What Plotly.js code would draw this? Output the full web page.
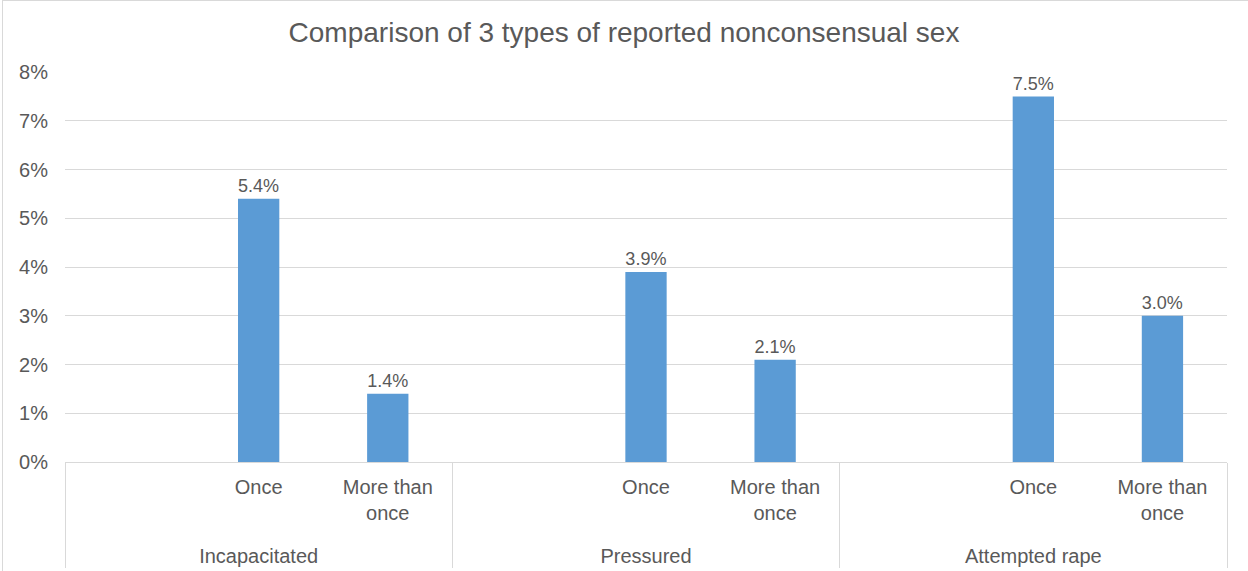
<!DOCTYPE html>
<html>
<head>
<meta charset="utf-8">
<script src="https://cdn.plot.ly/plotly-3.0.1.min.js"></script>
<style>
  html, body { margin: 0; padding: 0; background: #fff; }
  #wrap { position: relative; width: 1248px; height: 571px; overflow: hidden; }
  #chart { position: absolute; left: 0; top: 0; width: 1248px; height: 571px; }
  #frame { position: absolute; left: 2px; top: 0; width: 1250px; height: 580px;
           border: 1px solid #d9d9d9; pointer-events: none; }
</style>
</head>
<body>
<div id="wrap">
  <div id="chart"></div>
  <div id="frame"></div>
</div>
<script>
// Data
const groups = ["Incapacitated", "Pressured", "Attempted rape"];
// first slot of each group is an empty category, as in the reference
const subcats = [" ", "Once", "More than<br>once<br><span style='color:#ffffff'>.</span>"];
const incapacitated = [null, 0.054, 0.014];
const pressured = [null, 0.039, 0.021];
const attemptedRape = [null, 0.075, 0.030];

const seriesByGroup = [incapacitated, pressured, attemptedRape];
const xGroup = [], xSub = [], yVals = [];
groups.forEach((g, gi) => {
  subcats.forEach((s, si) => {
    xGroup.push(g);
    xSub.push(s);
    yVals.push(seriesByGroup[gi][si]);
  });
});

const textColor = "#595959";
const gridColor = "#d9d9d9";
const fontFamily = "'Liberation Sans', Arial, Helvetica, sans-serif";

const trace = {
  type: "bar",
  x: [xGroup, xSub],
  y: yVals,
  marker: { color: "#5b9bd5" },
  texttemplate: "%{y:.1%}",
  textposition: "outside",
  textfont: { family: fontFamily, size: 20, color: textColor },
  cliponaxis: false,
  hoverinfo: "skip"
};

const layout = {
  width: 1248,
  height: 571,
  margin: { l: 65, r: 21, t: 72, b: 109 },
  paper_bgcolor: "#ffffff",
  plot_bgcolor: "#ffffff",
  showlegend: false,
  bargap: 0.68,
  font: { family: fontFamily, size: 20, color: textColor },
  title: {
    text: "Comparison of 3 types of reported nonconsensual sex",
    font: { family: fontFamily, size: 28, color: textColor },
    xref: "container", x: 0.5, xanchor: "center",
    yref: "container", y: 1 - 32 / 571, yanchor: "middle"
  },
  xaxis: {
    type: "multicategory",
    showgrid: false,
    showline: true,
    linecolor: gridColor,
    linewidth: 1,
    ticks: "",
    ticklabelstandoff: 7,
    showdividers: true,
    dividercolor: gridColor,
    dividerwidth: 1,
    tickfont: { family: fontFamily, size: 20, color: textColor },
    fixedrange: true
  },
  yaxis: {
    range: [0, 0.08],
    dtick: 0.01,
    tick0: 0,
    tickformat: ".0%",
    showgrid: true,
    gridcolor: gridColor,
    gridwidth: 1,
    zeroline: false,
    showline: false,
    ticks: "",
    ticklabelstandoff: 16,
    tickfont: { family: fontFamily, size: 20, color: textColor },
    fixedrange: true
  }
};

Plotly.newPlot("chart", [trace], layout, { displayModeBar: false, staticPlot: true });
</script>
</body>
</html>
